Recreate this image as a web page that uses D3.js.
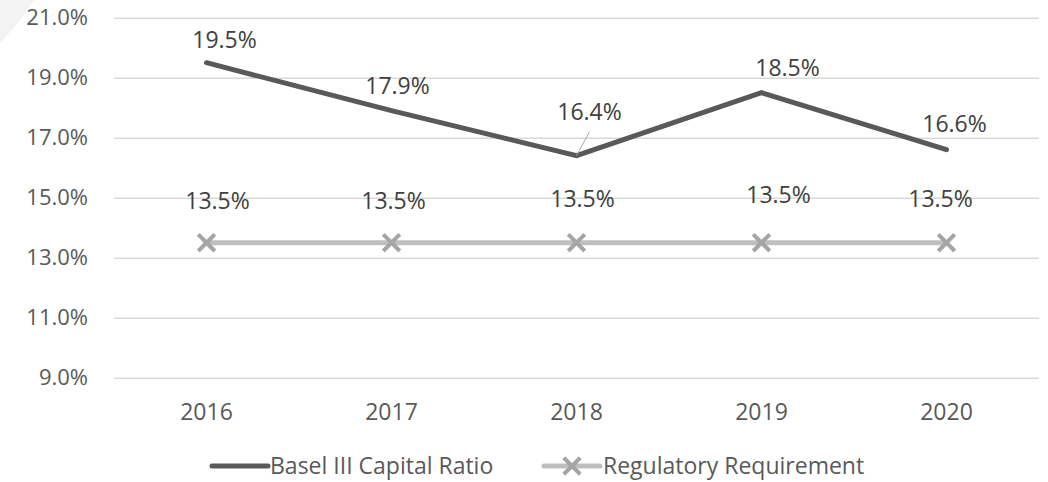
<!DOCTYPE html>
<html>
<head>
<meta charset="utf-8">
<script src="https://cdn.jsdelivr.net/npm/d3@7"></script>
<style>
  body { margin: 0; background: #fff; }
  text { font-family: "Open Sans", sans-serif; }
</style>
</head>
<body>
<div id="chart"></div>
<script>
(function() {

    // data
    const years = ["2016", "2017", "2018", "2019", "2020"];
    const baselRatio = [19.5, 17.9, 16.4, 18.5, 16.6];
    const regRequirement = [13.5, 13.5, 13.5, 13.5, 13.5];
    const yTicks = [9, 11, 13, 15, 17, 19, 21];
    const seriesNames = ["Basel III Capital Ratio", "Regulatory Requirement"];

    // hand placed data labels (offset from the point, like the original)
    const baselNudge = [[18, -15], [6, -17], [13, -36], [26, -17], [8, -18]];
    const regNudge = [[11, -34], [2, -34], [6, -36], [17, -40], [-6, -36]];

    const W = 1048, H = 482;
    const margin = {top: 17.7, right: 9, bottom: 104.3, left: 114};
    const width = W - margin.left - margin.right;
    const height = H - margin.top - margin.bottom;

    let root = d3.select("#chart").append("svg")
                .attr("width", W)
                .attr("height", H);

    // faint background arc in the corner
    root.append("circle")
        .attr("cx", -200).attr("cy", -150).attr("r", 278)
        .attr("fill", "#f3f3f3");

    let svg = root.append("g")
                .attr("transform", "translate(" + margin.left + "," + margin.top + ")");

    let xScale = d3.scaleBand()
                .domain(years)
                .range([0, width]);

    let yScale = d3.scaleLinear()
                .domain([9, 21])
                .range([height, 0]);

    let cx = d => xScale(d) + xScale.bandwidth() / 2;

    // y axis + gridlines
    let yAxis = svg.append("g")
        .call(d3.axisLeft(yScale)
            .tickValues(yTicks)
            .tickSize(-width)
            .tickPadding(26)
            .tickFormat(d => d3.format(".1f")(d) + "%"));
    yAxis.select(".domain").remove();
    yAxis.selectAll(".tick line")
        .attr("stroke", "#d9d9d9")
        .attr("stroke-width", 1.6);
    yAxis.selectAll(".tick text")
        .attr("font-size", 22)
        .attr("font-family", "Open Sans")
        .attr("fill", "#595959");

    // x axis labels
    let xAxis = svg.append("g")
        .attr("transform", "translate(0," + height + ")")
        .call(d3.axisBottom(xScale).tickSize(0).tickPadding(26));
    xAxis.select(".domain").remove();
    xAxis.selectAll(".tick text")
        .attr("font-size", 23)
        .attr("font-family", "Open Sans")
        .attr("fill", "#595959");

    let line = d3.line()
        .x((d, i) => cx(years[i]))
        .y(d => yScale(d));

    // regulatory requirement
    svg.append("path")
        .datum(regRequirement)
        .attr("fill", "none")
        .attr("stroke", "#bfbfbf")
        .attr("stroke-width", 5)
        .attr("d", line);

    let xMark = d3.symbol().type(d3.symbolX).size(180);
    svg.selectAll(".reg-mark")
        .data(regRequirement)
        .join("path")
        .attr("class", "reg-mark")
        .attr("transform", (d, i) => "translate(" + cx(years[i]) + "," + yScale(d) + ")")
        .attr("d", xMark)
        .attr("fill", "none")
        .attr("stroke", "#a5a5a5")
        .attr("stroke-width", 4);

    // basel ratio
    svg.append("path")
        .datum(baselRatio)
        .attr("fill", "none")
        .attr("stroke", "#595959")
        .attr("stroke-width", 5)
        .attr("stroke-linecap", "round")
        .attr("stroke-linejoin", "miter")
        .attr("d", line);

    // leader line for 2018 label
    svg.append("line")
        .attr("x1", cx(years[2])).attr("y1", yScale(baselRatio[2]))
        .attr("x2", cx(years[2]) + baselNudge[2][0]).attr("y2", yScale(baselRatio[2]) + baselNudge[2][1] + 12)
        .attr("stroke", "#a6a6a6")
        .attr("stroke-width", 1);

    function addLabels(values, nudge) {
        svg.selectAll(null)
            .data(values)
            .join("text")
            .attr("x", (d, i) => cx(years[i]) + nudge[i][0])
            .attr("y", (d, i) => yScale(d) + nudge[i][1])
            .attr("text-anchor", "middle")
            .attr("font-size", 23)
            .attr("fill", "#404040")
            .text(d => d3.format(".1f")(d) + "%");
    }
    addLabels(baselRatio, baselNudge);
    addLabels(regRequirement, regNudge);

    // legend
    let legend = root.append("g").attr("transform", "translate(0,466)");

    legend.append("line")
        .attr("x1", 212).attr("x2", 268)
        .attr("stroke", "#595959").attr("stroke-width", 5)
        .attr("stroke-linecap", "round");
    legend.append("text")
        .attr("x", 270).attr("y", 8)
        .attr("font-size", 23).attr("fill", "#595959")
        .text(seriesNames[0]);

    legend.append("line")
        .attr("x1", 544).attr("x2", 600)
        .attr("stroke", "#bfbfbf").attr("stroke-width", 5)
        .attr("stroke-linecap", "round");
    legend.append("path")
        .attr("transform", "translate(572,0)")
        .attr("d", xMark)
        .attr("fill", "none")
        .attr("stroke", "#a5a5a5")
        .attr("stroke-width", 4);
    legend.append("text")
        .attr("x", 603).attr("y", 8)
        .attr("font-size", 23).attr("fill", "#595959")
        .text(seriesNames[1]);

})();
</script>
</body>
</html>
